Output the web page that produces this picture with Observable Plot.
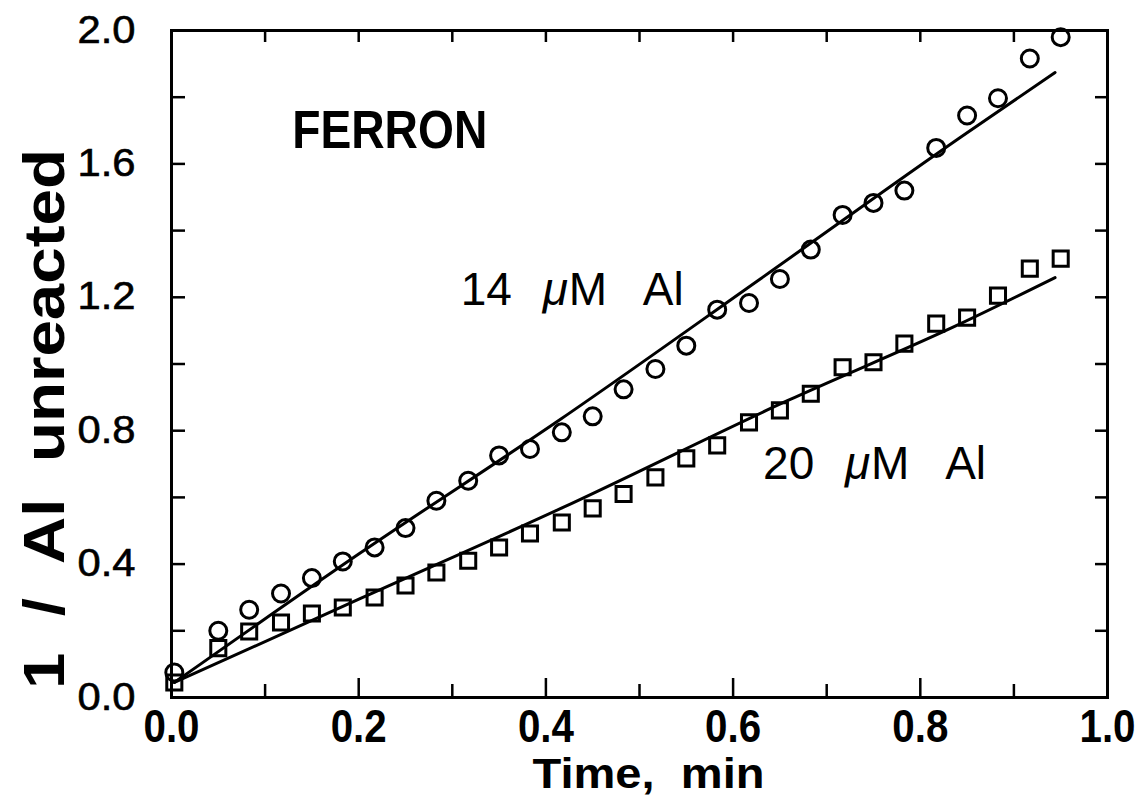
<!DOCTYPE html>
<html><head><meta charset="utf-8">
<script src="https://cdn.jsdelivr.net/npm/d3@7"></script>
<script src="https://cdn.jsdelivr.net/npm/@observablehq/plot@0.6"></script>
<style>
html,body{margin:0;padding:0;background:#fff;}
svg text{white-space:pre;}
</style></head><body><div id="chart"></div>
<script>
// ---- data ----
const time = [0.003, 0.05, 0.083, 0.117, 0.15, 0.183, 0.217, 0.25, 0.283, 0.317, 0.35, 0.383, 0.417, 0.45, 0.483, 0.517, 0.55, 0.583, 0.617, 0.65, 0.683, 0.717, 0.75, 0.783, 0.817, 0.85, 0.883, 0.917, 0.95];
const al14 = [0.075, 0.20, 0.263, 0.312, 0.358, 0.408, 0.45, 0.508, 0.59, 0.65, 0.726, 0.745, 0.795, 0.843, 0.924, 0.985, 1.055, 1.163, 1.183, 1.255, 1.343, 1.447, 1.483, 1.52, 1.648, 1.745, 1.797, 1.916, 1.98];
const al20 = [0.045, 0.148, 0.198, 0.225, 0.252, 0.27, 0.30, 0.336, 0.375, 0.41, 0.45, 0.492, 0.525, 0.567, 0.61, 0.66, 0.717, 0.756, 0.825, 0.861, 0.911, 0.99, 1.005, 1.061, 1.121, 1.139, 1.205, 1.286, 1.316];
const fit14Time = [0.003, 0.2, 0.416, 0.629, 0.843, 0.944];
const fit14 = [0.045, 0.43, 0.835, 1.255, 1.68, 1.874];
const fit20Time = [0.003, 0.202, 0.416, 0.658, 0.843, 0.944];
const fit20 = [0.045, 0.297, 0.567, 0.89, 1.121, 1.259];
const xMajor = [0, 0.2, 0.4, 0.6, 0.8, 1.0];
const xMinor = [0.1, 0.3, 0.5, 0.7, 0.9];
const xAll = [0, 0.1, 0.2, 0.3, 0.4, 0.5, 0.6, 0.7, 0.8, 0.9, 1.0];
const yMajor = [0, 0.4, 0.8, 1.2, 1.6, 2.0];
const yAll = [0, 0.2, 0.4, 0.6, 0.8, 1.0, 1.2, 1.4, 1.6, 1.8, 2.0];
const concNumbers = ["14", "20"];
const muSign = "μ";
const unitTail = "M   Al";
const title = "FERRON";
const xLabel = "Time,  min";
const yLabel = "1  /  Al  unreacted";

// ---- build tables ----
const pts14 = time.map((t, i) => ({t, v: al14[i]}));
const pts20 = time.map((t, i) => ({t, v: al20[i]}));
const line14 = fit14Time.map((t, i) => ({t, v: fit14[i]}));
const line20 = fit20Time.map((t, i) => ({t, v: fit20[i]}));

// ---- layout ----
const W = 1143, H = 797, mL = 171, mR = 36, mT = 30, mB = 100;
const fw = W - mL - mR, fh = H - mT - mB;
const ink = "black";
const labelPos = [{x: 0.309, y: 1.22}, {x: 0.632, y: 0.70}];

function seriesLabel(i) {
  const p = labelPos[i];
  const common = {x: p.x, y: p.y, textAnchor: "start", lineAnchor: "middle", fontSize: 46};
  return [
    Plot.text([concNumbers[i]], {...common, text: d => d}),
    Plot.text([muSign], {...common, text: d => d, dx: 82, fontStyle: "italic"}),
    Plot.text([unitTail], {...common, text: d => d, dx: 108})
  ];
}

const chart = Plot.plot({
  width: W, height: H,
  marginLeft: mL, marginRight: mR, marginTop: mT, marginBottom: mB,
  style: {background: "white", color: ink, fontFamily: "'Liberation Sans', Arial, sans-serif"},
  x: {domain: [0, 1], label: null},
  y: {domain: [0, 2], label: null},
  marks: [
    // inward ticks
    Plot.tickX(xMinor, {x: d => d, insetTop: fh - 13, stroke: ink, strokeWidth: 2.5}),
    Plot.tickX(xMajor, {x: d => d, insetTop: fh - 19, stroke: ink, strokeWidth: 2.5}),
    Plot.tickX(xAll, {x: d => d, insetBottom: fh - 12, stroke: ink, strokeWidth: 2.5}),
    Plot.tickY(yAll, {y: d => d, insetRight: fw - 14, stroke: ink, strokeWidth: 2.5}),
    Plot.tickY(yAll, {y: d => d, insetLeft: fw - 12, stroke: ink, strokeWidth: 2.5}),
    // tick labels
    Plot.axisX({ticks: xMajor, tickSize: 0, tickPadding: 12, tickFormat: d => d.toFixed(1), label: null, fontSize: 46}),
    Plot.axisY({ticks: yMajor, tickSize: 0, tickPadding: 36, tickFormat: d => d.toFixed(1), label: null, fontSize: 38}),
    // fit lines
    Plot.line(line14, {x: "t", y: "v", stroke: ink, strokeWidth: 3, curve: "monotone-x"}),
    Plot.line(line20, {x: "t", y: "v", stroke: ink, strokeWidth: 3, curve: "monotone-x"}),
    // data
    Plot.dot(pts14, {x: "t", y: "v", r: 8.5, symbol: "circle", stroke: ink, strokeWidth: 3, fill: "none"}),
    Plot.dot(pts20, {x: "t", y: "v", r: 8.5, symbol: "square", stroke: ink, strokeWidth: 3, fill: "none"}),
    Plot.frame({stroke: ink, strokeWidth: 3}),
    // annotations
    Plot.text([title], {text: d => d, x: 0.129, y: 1.70, textAnchor: "start", lineAnchor: "middle", fontSize: 54, fontWeight: "bold"}),
    ...seriesLabel(0),
    ...seriesLabel(1),
    Plot.text([xLabel], {text: d => d, frameAnchor: "bottom", dx: 9, dy: 61, lineAnchor: "top", fontSize: 42, fontWeight: "bold"}),
    Plot.text([yLabel], {text: d => d, frameAnchor: "left", dx: -126, dy: 55, rotate: -90, textAnchor: "middle", lineAnchor: "middle", fontSize: 58, fontWeight: "bold"})
  ]
});
document.getElementById("chart").appendChild(chart);

// ---- text styling ----
const svg = d3.select(chart);
const fit = (sel, len) => sel.attr("textLength", len).attr("lengthAdjust", "spacingAndGlyphs");
fit(svg.selectAll('g[aria-label="x-axis tick label"] text'), 56).attr("font-weight", "bold");
fit(svg.selectAll('g[aria-label="y-axis tick label"] text'), 58).attr("stroke", ink).attr("stroke-width", 0.6);
svg.selectAll("text").each(function () {
  const s = this.textContent, sel = d3.select(this);
  if (s === title) fit(sel, 195);
  else if (s === xLabel) fit(sel, 232);
  else if (s === yLabel) fit(sel, 540);
});
</script></body></html>
